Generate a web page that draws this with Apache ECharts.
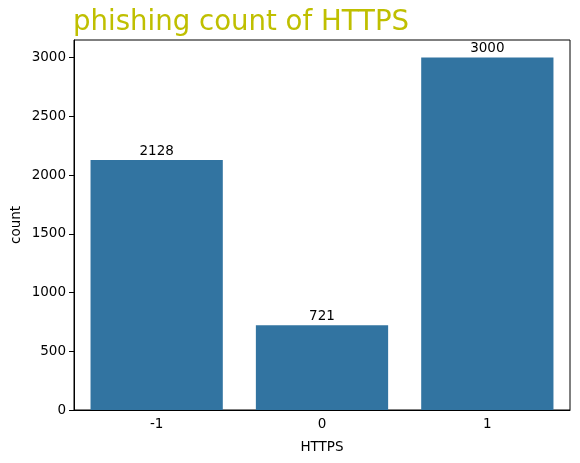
<!DOCTYPE html>
<html><head><meta charset="utf-8">
<script src="https://cdn.jsdelivr.net/npm/echarts@6/dist/echarts.min.js"></script>
<style>html,body{margin:0;padding:0;background:#fff}#c{width:580px;height:463px}</style>
</head><body><div id="c"></div>
<script>
const categories = ['-1', '0', '1'];
const counts = [2128, 721, 3000];
const yTicks = [0, 500, 1000, 1500, 2000, 2500, 3000];
const titleText = 'phishing count of HTTPS';
const xName = 'HTTPS';
const yName = 'count';

const font = 'DejaVu Sans';
const chart = echarts.init(document.getElementById('c'), null, {renderer: 'canvas'});
chart.setOption({
  animation: false,
  title: {
    text: titleText, left: 73, top: 9, padding: 0,
    textStyle: {color: '#bfbf00', fontSize: 27.6, fontWeight: 'normal', fontFamily: font}
  },
  grid: {left: 74, right: 10, top: 40, bottom: 53, containLabel: false, outerBoundsMode: 'none',
    show: true, borderColor: '#000', borderWidth: 1, backgroundColor: 'transparent'},
  xAxis: {
    type: 'category', data: categories,
    name: xName, nameLocation: 'middle', nameGap: 30, nameMoveOverlap: false,
    nameTextStyle: {color: '#000', fontSize: 13.5, fontFamily: font},
    axisLine: {lineStyle: {color: '#000', width: 1}},
    axisTick: {alignWithLabel: true, length: 5, lineStyle: {color: '#000'}},
    axisLabel: {color: '#000', fontSize: 13.5, fontFamily: font, margin: 7}
  },
  yAxis: {
    type: 'value', min: 0, max: 3150,
    name: yName, nameLocation: 'middle', nameGap: 51, nameRotate: 90, nameMoveOverlap: false,
    nameTextStyle: {color: '#000', fontSize: 13.5, fontFamily: font},
    axisLine: {show: true, lineStyle: {color: '#000', width: 1}},
    axisTick: {show: true, length: 5, lineStyle: {color: '#000'}, customValues: yTicks},
    axisLabel: {color: '#000', fontSize: 13.5, fontFamily: font, margin: 8, customValues: yTicks,
      formatter: v => String(v)},
    splitLine: {show: false}
  },
  series: [{
    type: 'bar', data: counts, barCategoryGap: '20%',
    itemStyle: {color: '#3274a1'},
    label: {show: true, position: 'top', distance: 2, color: '#000', fontSize: 13.5, fontFamily: font}
  }]
});
</script></body></html>
